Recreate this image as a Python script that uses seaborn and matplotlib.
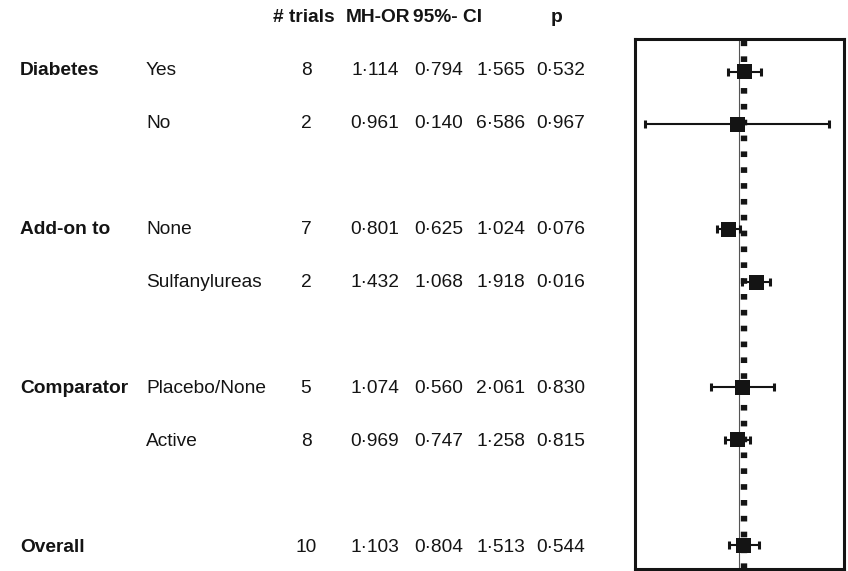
import matplotlib
matplotlib.use("Agg")
import matplotlib.pyplot as plt
import seaborn as sns
import pandas as pd

# Subgroup analysis: Mantel-Haenszel odds ratios with 95% CI
groups = ["Diabetes", "", "Add-on to", "", "Comparator", "", "Overall"]
subgroups = ["Yes", "No", "None", "Sulfanylureas", "Placebo/None", "Active", ""]
n_trials = [8, 2, 7, 2, 5, 8, 10]
mh_or = [1.114, 0.961, 0.801, 1.432, 1.074, 0.969, 1.103]
ci_low = [0.794, 0.140, 0.625, 1.068, 0.560, 0.747, 0.804]
ci_high = [1.565, 6.586, 1.024, 1.918, 2.061, 1.258, 1.513]
p_values = [0.532, 0.967, 0.076, 0.016, 0.830, 0.815, 0.544]
headers = ["# trials", "MH-OR", "95%- CI", "p"]

# row slots in the table (blank rows separate the subgroup blocks)
rows = [0, 1, 3, 4, 6, 7, 9]

df = pd.DataFrame({
    "group": groups, "subgroup": subgroups, "n": n_trials,
    "or": mh_or, "lo": ci_low, "hi": ci_high, "p": p_values, "row": rows,
})

sns.set_theme(style="white")
plt.rcParams["font.family"] = ["Liberation Sans", "DejaVu Sans"]

W, H = 848, 571
fig = plt.figure(figsize=(W / 100, H / 100), dpi=100)

FS = 13.8
INK = "#141414"


def fmt(v):
    return f"{v:.3f}".replace(".", "\u00b7")


# ---- table text (x in pixels, y in row units) ----
tax = fig.add_axes([0, 0, 1, 1])
tax.set_xlim(0, W)
tax.set_ylim(9.358, -1.415)
tax.axis("off")

hdr_y = -1
tax.text(273, hdr_y, headers[0], ha="left", va="baseline", fontsize=FS,
         fontweight="bold", color=INK)
tax.text(346, hdr_y, headers[1], ha="left", va="baseline", fontsize=FS,
         fontweight="bold", color=INK)
tax.text(413, hdr_y, headers[2], ha="left", va="baseline", fontsize=FS,
         fontweight="bold", color=INK)
tax.text(557, hdr_y, headers[3], ha="center", va="baseline", fontsize=FS,
         fontweight="bold", color=INK)

num_cols = [("or", 399), ("lo", 463), ("hi", 525), ("p", 585)]
for _, r in df.iterrows():
    y = r["row"]
    if r["group"]:
        tax.text(20, y, r["group"], ha="left", va="baseline", fontsize=FS,
                 fontweight="bold", color=INK)
    if r["subgroup"]:
        tax.text(146, y, r["subgroup"], ha="left", va="baseline",
                 fontsize=FS, color=INK)
    tax.text(306, y, str(r["n"]), ha="center", va="baseline", fontsize=FS,
             color=INK)
    for col, xr in num_cols:
        tax.text(xr, y, fmt(r[col]), ha="right", va="baseline", fontsize=FS,
                 color=INK)

# ---- forest plot panel ----
ax = fig.add_axes([634.5 / W, 1 - 569 / H, 209 / W, 530 / H])
ax.set_xscale("log")

ax.axvline(1.0, color="#555555", lw=0.8, zorder=1)
ax.axvline(df["or"].iloc[-1], color=INK, lw=4.6,
           linestyle=(0, (0.88, 1.6)), zorder=2)

ax.errorbar(df["or"], df["row"],
            xerr=[df["or"] - df["lo"], df["hi"] - df["or"]],
            fmt="none", ecolor=INK, elinewidth=1.5, capsize=3.2,
            capthick=2.2, zorder=3)
sns.scatterplot(data=df, x="or", y="row", marker="s", s=118, color=INK,
                edgecolor="none", linewidth=0, ax=ax, zorder=4, legend=False)

ax.set_xlim(0.113, 8.82)
ax.set_ylim(9.455, -0.622)
ax.set_xticks([])
ax.set_yticks([])
ax.minorticks_off()
ax.set_xlabel("")
ax.set_ylabel("")
for sp in ax.spines.values():
    sp.set_visible(True)
    sp.set_color(INK)
    sp.set_linewidth(2.2)

fig.savefig("out.png", dpi=100)
